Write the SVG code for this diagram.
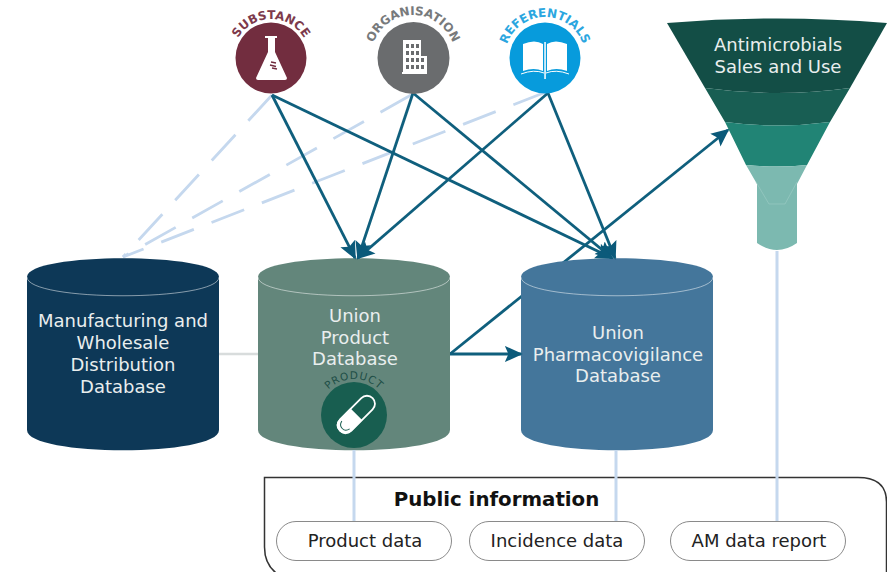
<svg xmlns="http://www.w3.org/2000/svg" xmlns:xlink="http://www.w3.org/1999/xlink" width="887" height="572" viewBox="0 0 887 572">
<style>
text{font-family:"DejaVu Sans",Verdana,sans-serif}
.lbl{font-size:18px;fill:#e9eeee;text-anchor:middle}
.pill{fill:#fff;stroke:#8a8a8a;stroke-width:1}
.pilltxt{font-size:18px;fill:#222;text-anchor:middle}
.flow{stroke:#0f5f7d;stroke-width:2.800;fill:none}
.pale{stroke:#c5d8ee;stroke-width:3;fill:none}
.dash{stroke:#c5d8ee;stroke-width:2.800;fill:none;stroke-dasharray:35 19}
.rim{fill:none;stroke:#fff;stroke-opacity:.5;stroke-width:1}
.ring{font-weight:bold;font-size:12px;text-anchor:middle}
.w{fill:#fff}
</style>
<defs>
<marker id="ahb" viewBox="0 0 10 10" refX="9" refY="5" markerWidth="18" markerHeight="18" markerUnits="userSpaceOnUse" orient="auto"><path d="M0 0.5L10 5L0 9.500L2 5Z" fill="#0b5a7a"/></marker>
<path id="r1" d="M233 57A38 38 0 0 1 309 57"/>
<path id="r2" d="M371 57A42 42 0 0 1 455 57"/>
<path id="r3" d="M505 57A40 40 0 0 1 585 57"/>
<path id="r4" d="M318 415A36 36 0 0 1 390 415"/>
</defs>

<g id="connectors-back">
<path class="dash" d="M272 95L123 257"/>
<path class="dash" d="M411 95L123 257"/>
<path class="dash" d="M546 92L123 257"/>
<path class="pale" style="stroke:#d8dcdc;stroke-width:2.500" d="M219 354H258"/>
<path class="flow" d="M450 354L728 130" marker-end="url(#ahb)"/>
</g>

<g id="funnel">
<path d="M667 23Q777 14 887 23L850 88Q777 98 705 88Z" fill="#134e46"/>
<path d="M705 88Q777 98 850 88L830 122Q777 129 725 122Z" fill="#185e53"/>
<path d="M725 122Q777 129 830 122L807 165Q777 168 746 165Z" fill="#218475"/>
<path d="M746 165Q777 168 807 165L797 184V243Q777 257 757 243V184Z" fill="#7cb9b0"/>
<path d="M756 182L769 204H785L797 182" fill="none" stroke="#9fcdc6" stroke-opacity=".6" stroke-width="1"/>
<text class="lbl" x="778" y="51">Antimicrobials</text>
<text class="lbl" x="778" y="73">Sales and Use</text>
</g>

<g id="manufacturing-db">
<path d="M27 277C27 252 219 252 219 277V430C219 457 27 457 27 430Z" fill="#0d3857"/>
<path class="rim" d="M27 277C27 302 219 302 219 277"/>
<text class="lbl" x="123" y="327">Manufacturing and</text>
<text class="lbl" x="123" y="349">Wholesale</text>
<text class="lbl" x="123" y="371">Distribution</text>
<text class="lbl" x="123" y="393">Database</text>
</g>

<g id="union-product-db">
<path d="M258 277C258 252 450 252 450 277V430C450 457 258 457 258 430Z" fill="#63867b"/>
<path class="rim" d="M258 277C258 302 450 302 450 277"/>
<text class="lbl" x="355" y="322">Union</text>
<text class="lbl" x="355" y="344">Product</text>
<text class="lbl" x="355" y="365">Database</text>
</g>

<g id="union-pv-db">
<path d="M521 277C521 252 713 252 713 277V430C713 457 521 457 521 430Z" fill="#44769b"/>
<path class="rim" d="M521 277C521 302 713 302 713 277"/>
<text class="lbl" x="618" y="339">Union</text>
<text class="lbl" x="618" y="361">Pharmacovigilance</text>
<text class="lbl" x="618" y="382">Database</text>
</g>

<g id="public-information">
<path d="M264.500 477.500H858Q886.500 477.500 886.500 502V580H290Q264.500 572 264.500 547Z" fill="#fff" stroke="#333" stroke-width="1.500"/>
<text x="496.500" y="506" font-size="19.800" font-weight="bold" fill="#111" text-anchor="middle">Public information</text>
</g>

<g id="connectors">
<path class="flow" d="M272 95L355 258" marker-end="url(#ahb)"/>
<path class="flow" d="M413 93L358 258" marker-end="url(#ahb)"/>
<path class="flow" d="M548 93L358 258" marker-end="url(#ahb)"/>
<path class="flow" d="M272 95L612 258" marker-end="url(#ahb)"/>
<path class="flow" d="M413 93L612 258" marker-end="url(#ahb)"/>
<path class="flow" d="M548 93L615 258" marker-end="url(#ahb)"/>
<path class="flow" d="M450 354L521 354" marker-end="url(#ahb)"/>
<path class="pale" d="M354 450V521"/>
<path class="pale" d="M616 450V521"/>
<path class="pale" d="M777 251V521"/>
</g>

<g id="product-data"><rect class="pill" x="276.500" y="521.500" width="175" height="39" rx="19.500"/><text class="pilltxt" x="365" y="547">Product data</text></g>
<g id="incidence-data"><rect class="pill" x="469.500" y="521.500" width="175" height="39" rx="19.500"/><text class="pilltxt" x="557" y="547">Incidence data</text></g>
<g id="am-data-report"><rect class="pill" x="670.500" y="521.500" width="175" height="39" rx="19.500"/><text class="pilltxt" x="759" y="547">AM data report</text></g>

<g id="substance">
<circle cx="271" cy="58" r="35.500" fill="#722d3f"/>
<text class="ring" fill="#7d3a4c"><textPath xlink:href="#r1" href="#r1" startOffset="50%">SUBSTANCE</textPath></text>
<path class="w" d="M265 36H277V38H275V52L287 78Q287 80 285 80H258Q256 80 256 78L268 52V38H265Z"/>
<path d="M271 62l5 1M270 65l6 1.500M272 68l5 1" stroke="#722d3f" stroke-width="1.300"/>
</g>

<g id="organisation">
<circle cx="413.500" cy="58" r="36" fill="#6a6c6e"/>
<path class="w" d="M403 40H421V56H427V74H402V72H403Z"/>
<g fill="#6a6c6e"><rect x="406" y="44" width="3" height="4"/><rect x="411" y="44" width="3" height="4"/><rect x="416" y="44" width="3" height="4"/><rect x="406" y="51" width="3" height="4"/><rect x="411" y="51" width="3" height="4"/><rect x="416" y="51" width="3" height="4"/><rect x="406" y="58" width="3" height="4"/><rect x="411" y="58" width="3" height="4"/><rect x="416" y="58" width="3" height="4"/><rect x="421" y="58" width="3" height="4"/><rect x="406" y="65" width="3" height="4"/><rect x="411" y="65" width="3" height="4"/><rect x="416" y="65" width="3" height="4"/><rect x="421" y="65" width="3" height="4"/></g>
<text class="ring" fill="#777a7c"><textPath xlink:href="#r2" href="#r2" startOffset="50%">ORGANISATION</textPath></text>
</g>

<g id="referentials">
<circle cx="545" cy="58" r="35.500" fill="#079bdc"/>
<path class="w" d="M523 44Q535 39 543 44V71Q534 67 523 71Z"/>
<path class="w" d="M547 44Q555 39 567 44V71Q556 67 547 71Z"/>
<path d="M521 74Q534 69 544 73M569 74Q556 69 546 73" fill="none" stroke="#fff" stroke-width="1"/>
<rect class="w" x="544.300" y="42" width="1.500" height="37"/>
<text class="ring" fill="#2aa6e0"><textPath xlink:href="#r3" href="#r3" startOffset="50%">REFERENTIALS</textPath></text>
</g>

<g id="product">
<circle cx="354" cy="415" r="33" fill="#185e50"/>
<g transform="rotate(-45 356 414)">
<rect x="333" y="406.500" width="46" height="16" rx="8" fill="#185e50" stroke="#fff" stroke-width="1.800"/>
<path class="w" d="M356 406H341Q332 406 332 414.500Q332 423 341 423H356Z"/>
<path d="M341 409Q336 410 336 414.500Q336 419 341 420" fill="none" stroke="#185e50" stroke-width="1"/>
</g>
<text class="ring" style="font-weight:normal;font-size:10.500px;letter-spacing:.8px" fill="#1f4f47"><textPath xlink:href="#r4" href="#r4" startOffset="50%">PRODUCT</textPath></text>
</g>
</svg>
